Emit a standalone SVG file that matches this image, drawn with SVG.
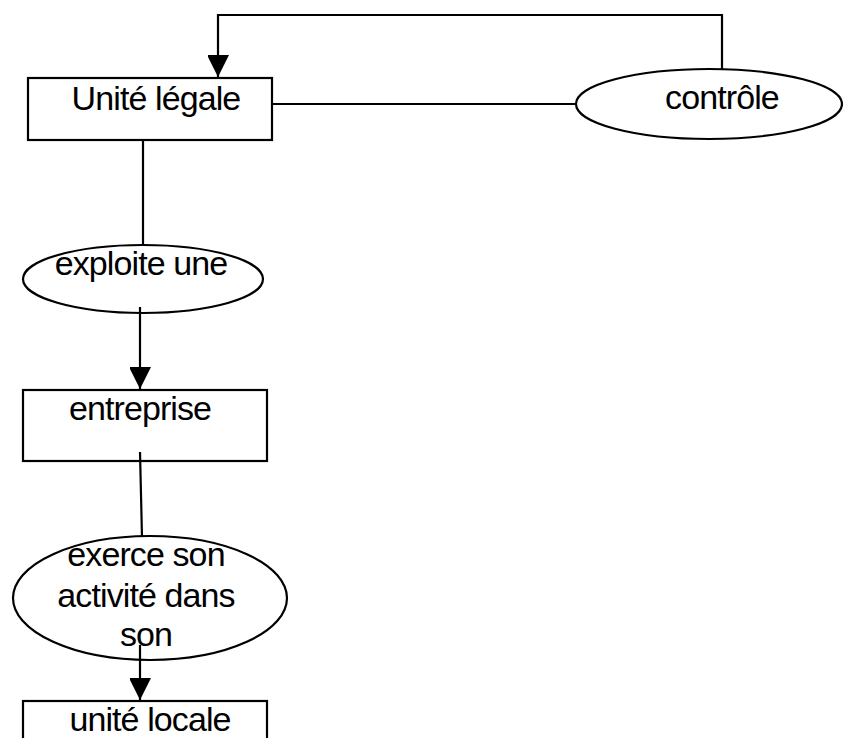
<svg xmlns="http://www.w3.org/2000/svg" width="843" height="738" viewBox="0 0 843 738">
  <style>
    .box { fill: #ffffff; stroke: #000000; stroke-width: 2.2; }
    .line { fill: none; stroke: #000000; stroke-width: 2.2; }
    .label { font-family: "Liberation Sans", Arial, sans-serif; font-size: 34px; letter-spacing: -0.9px; fill: #000000; text-anchor: middle; }
  </style>
  <defs>
    <marker id="arrow" markerWidth="22" markerHeight="21" refX="22" refY="11" orient="auto" markerUnits="userSpaceOnUse">
      <path d="M0,0 L22,11 L0,22 Z" fill="#000000"/>
    </marker>
  </defs>

  <g id="unite-legale">
    <rect class="box" x="28" y="78" width="244" height="62"/>
    <text class="label" x="156" y="110">Unité légale</text>
  </g>

  <g id="controle">
    <ellipse class="box" cx="709" cy="104" rx="133" ry="35"/>
    <text class="label" x="722" y="109">contrôle</text>
  </g>

  <g id="exploite-une">
    <ellipse class="box" cx="143" cy="279" rx="120" ry="34"/>
    <text class="label" x="141" y="275">exploite une</text>
  </g>

  <g id="entreprise">
    <rect class="box" x="23" y="390" width="244" height="71"/>
    <text class="label" x="140" y="420">entreprise</text>
  </g>

  <g id="exerce-activite">
    <ellipse class="box" cx="150" cy="598" rx="137" ry="62"/>
    <text class="label" x="146" y="566">exerce son</text>
    <text class="label" x="146" y="607">activité dans</text>
    <text class="label" x="146" y="646">son</text>
  </g>

  <g id="unite-locale">
    <rect class="box" x="23" y="701" width="244" height="60"/>
    <text class="label" x="150" y="731">unité locale</text>
  </g>

  <!-- connectors are drawn last so they sit over the shapes -->
  <g id="connectors">
    <!-- control loop back to the legal unit -->
    <path class="line" d="M722,70 L722,15 L218,15 L218,77" marker-end="url(#arrow)"/>
    <line class="line" x1="272" y1="104" x2="577" y2="104"/>
    <!-- legal unit -> exploite une -> entreprise -->
    <line class="line" x1="143" y1="140" x2="143" y2="245"/>
    <line class="line" x1="140" y1="307" x2="140" y2="389" marker-end="url(#arrow)"/>
    <!-- entreprise -> exerce son activité -> unité locale -->
    <line class="line" x1="140" y1="452" x2="142" y2="537"/>
    <line class="line" x1="140" y1="645" x2="140" y2="700" marker-end="url(#arrow)"/>
  </g>
</svg>
